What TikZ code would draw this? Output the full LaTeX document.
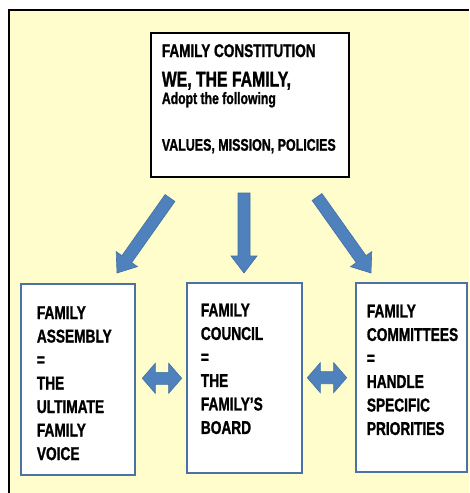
\documentclass[tikz,border=0pt]{standalone}
\usepackage{fontspec}
\setmainfont{Liberation Sans}[FakeStretch=0.74, BoldFeatures={FakeBold=1.2}]
\usetikzlibrary{calc}

\definecolor{paper}{HTML}{FFFDCB}
\definecolor{arrowblue}{HTML}{4F81BD}
\definecolor{arrowedge}{HTML}{416FA6}
\definecolor{boxedge}{HTML}{4A72A6}

\tikzset{
  constbox/.style={rectangle, draw=black, line width=1.6pt, fill=white, inner sep=0pt},
  bodybox/.style={rectangle, draw=boxedge, line width=1.2pt, fill=white, inner sep=0pt},
  boxtext/.style={inner sep=0pt, align=left, text=black,
    font=\bfseries\fontsize{18.5}{23.5}\selectfont},
  headtext/.style={anchor=base west, inner sep=0pt, text=black},
  blockarrow/.style={fill=arrowblue, draw=arrowedge, line width=0.6pt, line join=miter},
}

% single block arrow from #1 to #2 (shaft half width 6, head half width 13, head length 17)
\newcommand\fatarrow[2]{%
  \coordinate (#1-neck) at ($(#2)!17pt!(#1)$);
  \filldraw[blockarrow]
    ($(#1)!6pt!90:(#2)$) -- ($(#1-neck)!6pt!90:(#2)$) -- ($(#1-neck)!13pt!90:(#2)$)
    -- (#2)
    -- ($(#1-neck)!13pt!-90:(#2)$) -- ($(#1-neck)!6pt!-90:(#2)$) -- ($(#1)!6pt!-90:(#2)$)
    -- cycle;
}
% double block arrow between #1 and #2
\newcommand\twinarrow[2]{%
  \coordinate (#1-na) at ($(#1)!13pt!(#2)$);
  \coordinate (#1-nb) at ($(#2)!13pt!(#1)$);
  \filldraw[blockarrow]
    (#1) -- ($(#1-na)!15pt!90:(#2)$) -- ($(#1-na)!6pt!90:(#2)$)
    -- ($(#1-nb)!6pt!90:(#2)$) -- ($(#1-nb)!15pt!90:(#2)$)
    -- (#2)
    -- ($(#1-nb)!15pt!-90:(#2)$) -- ($(#1-nb)!6pt!-90:(#2)$)
    -- ($(#1-na)!6pt!-90:(#2)$) -- ($(#1-na)!15pt!-90:(#2)$)
    -- cycle;
}

\begin{document}
\begin{tikzpicture}[x=1pt, y=-1pt]
  \useasboundingbox (0,0) rectangle (469,493);

  % page background and frame
  \fill[paper] (10,11) rectangle (469,493);
  \draw[black, line width=2pt] (9,493) -- (9,10) -- (469,10);

  % constitution box
  \node[constbox, minimum width=198pt, minimum height=144pt] (const) at (249.9,104.9) {};
  \node[headtext, font=\bfseries\fontsize{18.3}{20}\selectfont] (c1) at (161.7,57) {FAMILY CONSTITUTION};
  \node[headtext, font=\bfseries\fontsize{21.3}{22}\selectfont] (c2) at (161.7,86.5) {WE, THE FAMILY,};
  \node[headtext, font=\bfseries\fontsize{16.5}{18}\selectfont] (c3) at (161.7,104) {Adopt the following};
  \node[headtext, font=\bfseries\fontsize{16.8}{20}\selectfont] (c4) at (161.7,150.7) {VALUES, MISSION, POLICIES};

  % three bodies
  \node[bodybox, minimum width=114pt, minimum height=191pt] (assembly) at (78,379.5) {};
  \node[bodybox, minimum width=115pt, minimum height=190pt] (council) at (244.5,378) {};
  \node[bodybox, minimum width=111pt, minimum height=189pt] (committees) at (411.5,377.5) {};

  \node[boxtext, anchor=north west] (at) at (36.7,306.1)
    {FAMILY\\ASSEMBLY\\=\\THE\\ULTIMATE\\FAMILY\\VOICE};
  \node[boxtext, anchor=north west] (ct) at (200.7,303.5)
    {FAMILY\\COUNCIL\\=\\THE\\FAMILY’S\\BOARD};
  \node[boxtext, anchor=north west] (mt) at (366.7,304.5)
    {FAMILY\\COMMITTEES\\=\\HANDLE\\SPECIFIC\\PRIORITIES};

  % arrows from the constitution to the bodies
  \coordinate (ls) at (170,198);  \coordinate (lt) at (117,273);
  \coordinate (ms) at (244,193);  \coordinate (mt2) at (244,273);
  \coordinate (rs) at (317,197);  \coordinate (rt) at (371,273);
  \fatarrow{ls}{lt}
  \fatarrow{ms}{mt2}
  \fatarrow{rs}{rt}

  % links between the bodies
  \coordinate (a1) at ($(assembly.east |- 0,378.3)+(6.7,0)$);
  \coordinate (a2) at ($(council.west |- 0,378.3)+(-4.7,0)$);
  \coordinate (b1) at ($(council.east |- 0,377.7)+(4.7,0)$);
  \coordinate (b2) at ($(committees.west |- 0,377.7)+(-8.7,0)$);
  \twinarrow{a1}{a2}
  \twinarrow{b1}{b2}
\end{tikzpicture}
\end{document}
